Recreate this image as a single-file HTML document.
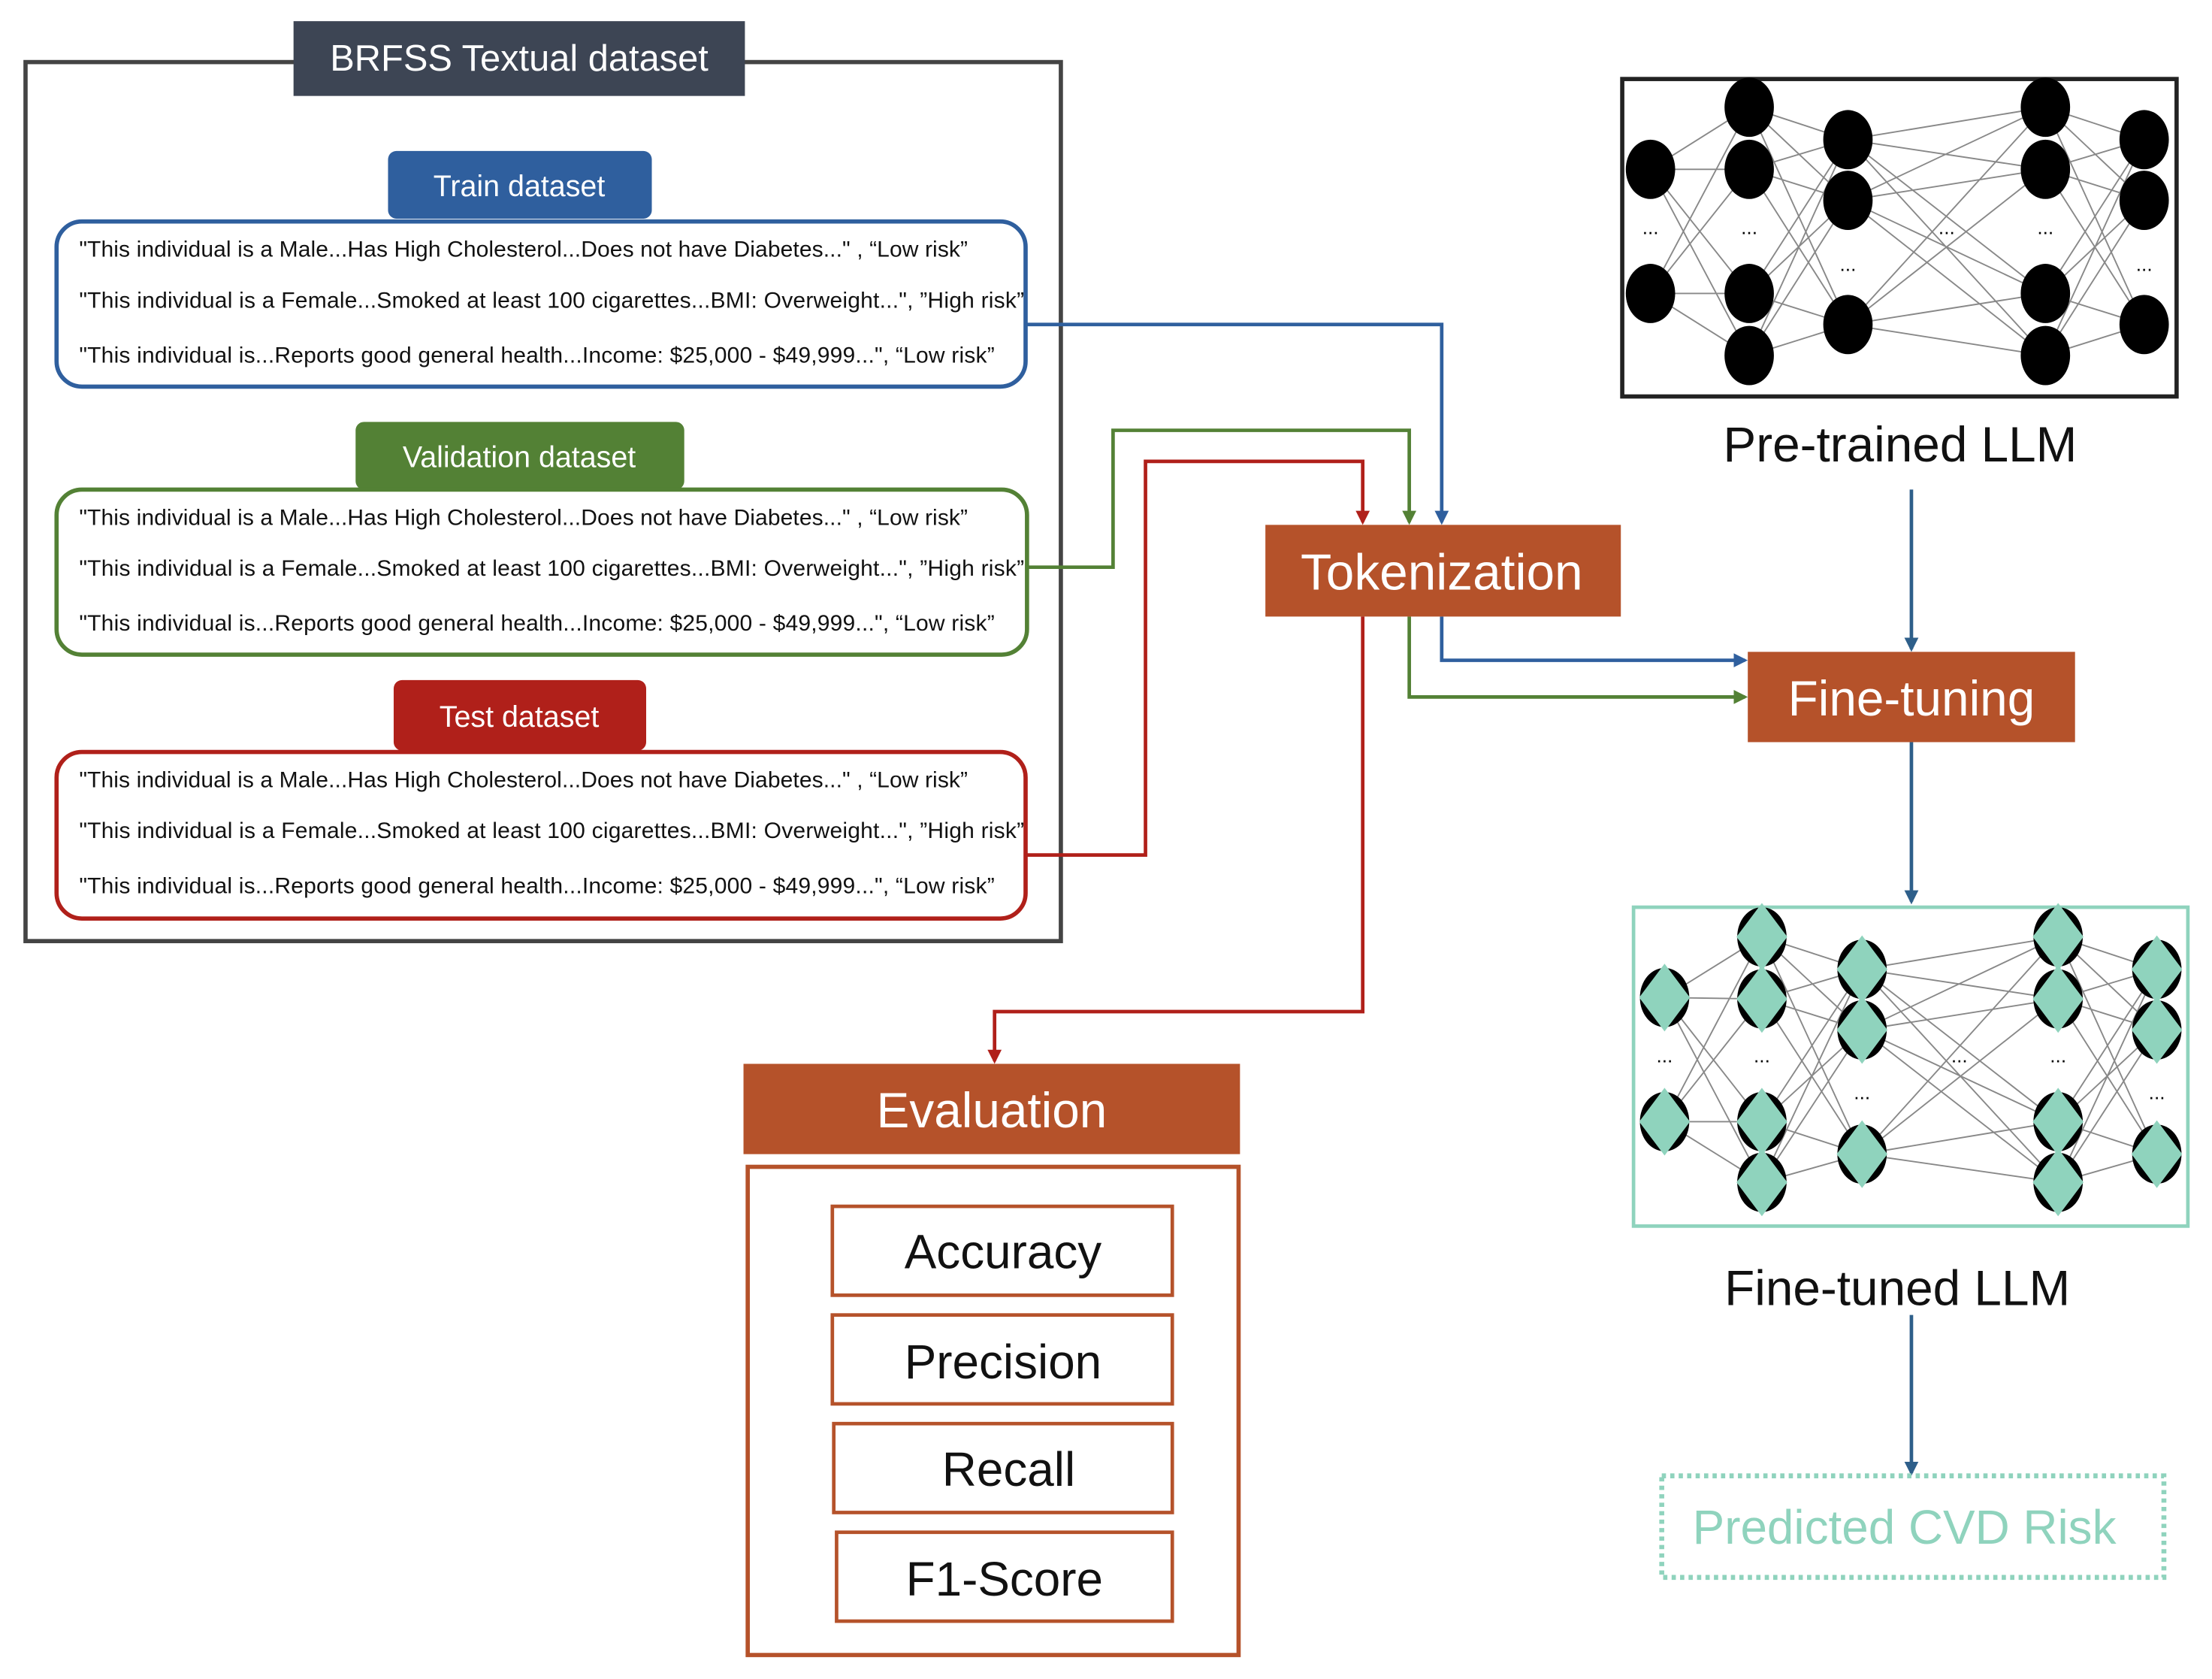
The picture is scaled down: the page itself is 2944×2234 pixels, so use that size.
<!DOCTYPE html>
<html><head><meta charset="utf-8"><style>
html,body{margin:0;padding:0;background:#fff;}
svg{display:block;}
text{font-family:"Liberation Sans",sans-serif;}
</style></head><body>
<svg width="2944" height="2234" viewBox="0 0 1568 1190" xmlns="http://www.w3.org/2000/svg">
<defs>
<marker id="ab" markerWidth="10" markerHeight="10" refX="8" refY="5" orient="auto" markerUnits="userSpaceOnUse"><path d="M0,0 L10,5 L0,10 z" fill="#2f5f9e"/></marker>
<marker id="ag" markerWidth="10" markerHeight="10" refX="8" refY="5" orient="auto" markerUnits="userSpaceOnUse"><path d="M0,0 L10,5 L0,10 z" fill="#538135"/></marker>
<marker id="ar" markerWidth="10" markerHeight="10" refX="8" refY="5" orient="auto" markerUnits="userSpaceOnUse"><path d="M0,0 L10,5 L0,10 z" fill="#b0201a"/></marker>
<marker id="ad" markerWidth="10" markerHeight="10" refX="8" refY="5" orient="auto" markerUnits="userSpaceOnUse"><path d="M0,0 L10,5 L0,10 z" fill="#2e5f8a"/></marker>
</defs>

<rect x="18" y="44" width="734" height="623" fill="none" stroke="#444" stroke-width="3"/>
<rect x="208" y="15" width="320" height="53" fill="#3d4554"/>
<text x="368" y="50" font-size="26" fill="#fff" text-anchor="middle">BRFSS Textual dataset</text>

<rect x="275" y="107" width="187" height="48" rx="6" fill="#2f5f9e"/>
<text x="368" y="139" font-size="21" fill="#fff" text-anchor="middle">Train dataset</text>
<rect x="40" y="157" width="687" height="117" rx="18" fill="none" stroke="#2f5f9e" stroke-width="3"/>
<g font-size="16" fill="#111" lengthAdjust="spacing">
<text x="56" y="182" textLength="630">"This individual is a Male...Has High Cholesterol...Does not have Diabetes..." , “Low risk”</text>
<text x="56" y="218" textLength="670">"This individual is a Female...Smoked at least 100 cigarettes...BMI: Overweight...",  ”High risk”</text>
<text x="56" y="257" textLength="649">"This individual is...Reports good general health...Income: $25,000 - $49,999...", “Low risk”</text>
</g>

<rect x="252" y="299" width="233" height="48" rx="6" fill="#538135"/>
<text x="368" y="331" font-size="21" fill="#fff" text-anchor="middle">Validation dataset</text>
<rect x="40" y="347" width="688" height="117" rx="18" fill="none" stroke="#538135" stroke-width="3"/>
<g font-size="16" fill="#111">
<text x="56" y="372" textLength="630">"This individual is a Male...Has High Cholesterol...Does not have Diabetes..." , “Low risk”</text>
<text x="56" y="408" textLength="670">"This individual is a Female...Smoked at least 100 cigarettes...BMI: Overweight...",  ”High risk”</text>
<text x="56" y="447" textLength="649">"This individual is...Reports good general health...Income: $25,000 - $49,999...", “Low risk”</text>
</g>

<rect x="279" y="482" width="179" height="50" rx="6" fill="#b0201a"/>
<text x="368" y="515" font-size="21" fill="#fff" text-anchor="middle">Test dataset</text>
<rect x="40" y="533" width="687" height="118" rx="18" fill="none" stroke="#b0201a" stroke-width="3"/>
<g font-size="16" fill="#111">
<text x="56" y="558" textLength="630">"This individual is a Male...Has High Cholesterol...Does not have Diabetes..." , “Low risk”</text>
<text x="56" y="594" textLength="670">"This individual is a Female...Smoked at least 100 cigarettes...BMI: Overweight...",  ”High risk”</text>
<text x="56" y="633" textLength="649">"This individual is...Reports good general health...Income: $25,000 - $49,999...", “Low risk”</text>
</g>

<g fill="none" stroke-width="2.5">
<polyline points="727,230 1022,230 1022,370" stroke="#2f5f9e" marker-end="url(#ab)"/>
<polyline points="1022,437 1022,468 1237,468" stroke="#2f5f9e" marker-end="url(#ab)"/>
<polyline points="728,402 789,402 789,305 999,305 999,370" stroke="#538135" marker-end="url(#ag)"/>
<polyline points="999,437 999,494 1237,494" stroke="#538135" marker-end="url(#ag)"/>
<polyline points="727,606 812,606 812,327 966,327 966,370" stroke="#b0201a" marker-end="url(#ar)"/>
<polyline points="966,437 966,717 705,717 705,752" stroke="#b0201a" marker-end="url(#ar)"/>
<line x1="1355" y1="347" x2="1355" y2="460" stroke="#2e5f8a" marker-end="url(#ad)"/>
<line x1="1355" y1="526" x2="1355" y2="639" stroke="#2e5f8a" marker-end="url(#ad)"/>
<line x1="1355" y1="932" x2="1355" y2="1044" stroke="#2e5f8a" marker-end="url(#ad)"/>
</g>

<rect x="897" y="372" width="252" height="65" fill="#b5522a"/>
<text x="1022" y="418" font-size="36" fill="#fff" text-anchor="middle">Tokenization</text>
<rect x="1239" y="462" width="232" height="64" fill="#b5522a"/>
<text x="1355" y="507" font-size="35" fill="#fff" text-anchor="middle">Fine-tuning</text>
<rect x="527" y="754" width="352" height="64" fill="#b5522a"/>
<text x="703" y="799" font-size="35" fill="#fff" text-anchor="middle">Evaluation</text>
<rect x="530" y="827" width="348" height="346" fill="none" stroke="#b5522a" stroke-width="3"/>
<g fill="none" stroke="#b5522a" stroke-width="2.5">
<rect x="590" y="855" width="241" height="63"/>
<rect x="590" y="932" width="241" height="63"/>
<rect x="591" y="1009" width="240" height="63"/>
<rect x="593" y="1086" width="238" height="63"/>
</g>
<g font-size="34" fill="#111" text-anchor="middle">
<text x="711" y="899">Accuracy</text>
<text x="711" y="977">Precision</text>
<text x="715" y="1053">Recall</text>
<text x="712" y="1131">F1-Score</text>
<text x="1347" y="327" font-size="35">Pre-trained LLM</text>
<text x="1345" y="925" font-size="35">Fine-tuned LLM</text>
</g>

<rect x="1150" y="56" width="393" height="225" fill="#fff" stroke="#222" stroke-width="3"/>
<g stroke="#888" stroke-width="1">
<path d="M1170,120L1240,76M1170,120L1240,120M1170,120L1240,208M1170,120L1240,252M1170,208L1240,76M1170,208L1240,120M1170,208L1240,208M1170,208L1240,252
M1240,76L1310,99M1240,76L1310,142M1240,76L1310,230M1240,120L1310,99M1240,120L1310,142M1240,120L1310,230M1240,208L1310,99M1240,208L1310,142M1240,208L1310,230M1240,252L1310,99M1240,252L1310,142M1240,252L1310,230
M1310,99L1450,76M1310,99L1450,120M1310,99L1450,208M1310,99L1450,252M1310,142L1450,76M1310,142L1450,120M1310,142L1450,208M1310,142L1450,252M1310,230L1450,76M1310,230L1450,120M1310,230L1450,208M1310,230L1450,252
M1450,76L1520,99M1450,76L1520,142M1450,76L1520,230M1450,120L1520,99M1450,120L1520,142M1450,120L1520,230M1450,208L1520,99M1450,208L1520,142M1450,208L1520,230M1450,252L1520,99M1450,252L1520,142M1450,252L1520,230"/>
</g>
<g fill="#000">
<ellipse cx="1170" cy="120" rx="17.5" ry="21"/><ellipse cx="1170" cy="208" rx="17.5" ry="21"/>
<ellipse cx="1240" cy="76" rx="17.5" ry="21"/><ellipse cx="1240" cy="120" rx="17.5" ry="21"/><ellipse cx="1240" cy="208" rx="17.5" ry="21"/><ellipse cx="1240" cy="252" rx="17.5" ry="21"/>
<ellipse cx="1310" cy="99" rx="17.5" ry="21"/><ellipse cx="1310" cy="142" rx="17.5" ry="21"/><ellipse cx="1310" cy="230" rx="17.5" ry="21"/>
<ellipse cx="1450" cy="76" rx="17.5" ry="21"/><ellipse cx="1450" cy="120" rx="17.5" ry="21"/><ellipse cx="1450" cy="208" rx="17.5" ry="21"/><ellipse cx="1450" cy="252" rx="17.5" ry="21"/>
<ellipse cx="1520" cy="99" rx="17.5" ry="21"/><ellipse cx="1520" cy="142" rx="17.5" ry="21"/><ellipse cx="1520" cy="230" rx="17.5" ry="21"/>
</g>
<g font-size="14" fill="#000" text-anchor="middle">
<text x="1170" y="166">...</text><text x="1240" y="166">...</text><text x="1310" y="192">...</text><text x="1380" y="166">...</text><text x="1450" y="166">...</text><text x="1520" y="192">...</text>
</g>

<rect x="1158" y="643" width="393" height="226" fill="#fff" stroke="#8fd3bd" stroke-width="2.5"/>
<g stroke="#888" stroke-width="1">
<path d="M1180,707L1249,664M1180,707L1249,708M1180,707L1249,795M1180,707L1249,838M1180,795L1249,664M1180,795L1249,708M1180,795L1249,795M1180,795L1249,838
M1249,664L1320,687M1249,664L1320,730M1249,664L1320,818M1249,708L1320,687M1249,708L1320,730M1249,708L1320,818M1249,795L1320,687M1249,795L1320,730M1249,795L1320,818M1249,838L1320,687M1249,838L1320,730M1249,838L1320,818
M1320,687L1459,664M1320,687L1459,708M1320,687L1459,795M1320,687L1459,838M1320,730L1459,664M1320,730L1459,708M1320,730L1459,795M1320,730L1459,838M1320,818L1459,664M1320,818L1459,708M1320,818L1459,795M1320,818L1459,838
M1459,664L1529,687M1459,664L1529,730M1459,664L1529,818M1459,708L1529,687M1459,708L1529,730M1459,708L1529,818M1459,795L1529,687M1459,795L1529,730M1459,795L1529,818M1459,838L1529,687M1459,838L1529,730M1459,838L1529,818"/>
</g>
<g fill="#000">
<ellipse cx="1180" cy="707" rx="17.5" ry="21"/><ellipse cx="1180" cy="795" rx="17.5" ry="21"/>
<ellipse cx="1249" cy="664" rx="17.5" ry="21"/><ellipse cx="1249" cy="708" rx="17.5" ry="21"/><ellipse cx="1249" cy="795" rx="17.5" ry="21"/><ellipse cx="1249" cy="838" rx="17.5" ry="21"/>
<ellipse cx="1320" cy="687" rx="17.5" ry="21"/><ellipse cx="1320" cy="730" rx="17.5" ry="21"/><ellipse cx="1320" cy="818" rx="17.5" ry="21"/>
<ellipse cx="1459" cy="664" rx="17.5" ry="21"/><ellipse cx="1459" cy="708" rx="17.5" ry="21"/><ellipse cx="1459" cy="795" rx="17.5" ry="21"/><ellipse cx="1459" cy="838" rx="17.5" ry="21"/>
<ellipse cx="1529" cy="687" rx="17.5" ry="21"/><ellipse cx="1529" cy="730" rx="17.5" ry="21"/><ellipse cx="1529" cy="818" rx="17.5" ry="21"/>
</g>
<g fill="#8fd3bd">
<path d="M1180,683l18,24l-18,24l-18,-24z"/><path d="M1180,771l18,24l-18,24l-18,-24z"/>
<path d="M1249,640l18,24l-18,24l-18,-24z"/><path d="M1249,684l18,24l-18,24l-18,-24z"/><path d="M1249,771l18,24l-18,24l-18,-24z"/><path d="M1249,814l18,24l-18,24l-18,-24z"/>
<path d="M1320,663l18,24l-18,24l-18,-24z"/><path d="M1320,706l18,24l-18,24l-18,-24z"/><path d="M1320,794l18,24l-18,24l-18,-24z"/>
<path d="M1459,640l18,24l-18,24l-18,-24z"/><path d="M1459,684l18,24l-18,24l-18,-24z"/><path d="M1459,771l18,24l-18,24l-18,-24z"/><path d="M1459,814l18,24l-18,24l-18,-24z"/>
<path d="M1529,663l18,24l-18,24l-18,-24z"/><path d="M1529,706l18,24l-18,24l-18,-24z"/><path d="M1529,794l18,24l-18,24l-18,-24z"/>
</g>
<g font-size="14" fill="#000" text-anchor="middle">
<text x="1180" y="753">...</text><text x="1249" y="753">...</text><text x="1320" y="779">...</text><text x="1389" y="753">...</text><text x="1459" y="753">...</text><text x="1529" y="779">...</text>
</g>

<rect x="1178" y="1046" width="356" height="72" fill="none" stroke="#8fd3bd" stroke-width="3.5" stroke-dasharray="3,3"/>
<text x="1350" y="1094" font-size="34" fill="#8fd3bd" text-anchor="middle">Predicted CVD Risk</text>
</svg>
</body></html>
